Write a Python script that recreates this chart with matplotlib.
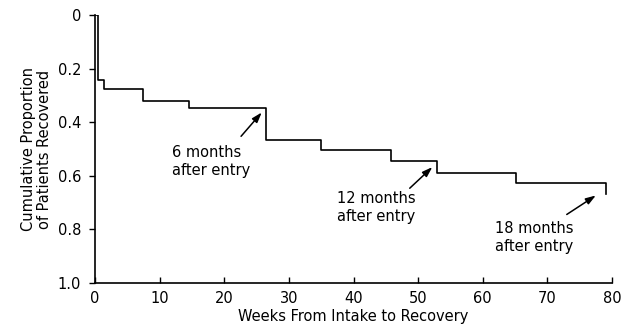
import matplotlib
matplotlib.use("Agg")
import matplotlib.pyplot as plt

# Kaplan-Meier style recovery curve
event_weeks = [0.4, 1.4, 7.4, 14.6, 26.5, 34.9, 45.8, 52.9, 65.1, 79.1]
proportion_recovered = [0.24, 0.277, 0.32, 0.346, 0.464, 0.505, 0.546, 0.588, 0.627, 0.667]

x_ticks = [0, 10, 20, 30, 40, 50, 60, 70, 80]
y_ticks = [0, 0.2, 0.4, 0.6, 0.8, 1.0]
y_tick_labels = ["0", "0.2", "0.4", "0.6", "0.8", "1.0"]

# annotations: label, text left/centre, arrow tail, arrow head (data coords)
notes = ["6 months\nafter entry", "12 months\nafter entry", "18 months\nafter entry"]
note_xy = [(11.9, 0.546), (37.4, 0.718), (61.9, 0.83)]
arrow_tail = [(22.6, 0.452), (48.7, 0.646), (73.0, 0.744)]
arrow_head = [(25.8, 0.363), (52.2, 0.567), (77.5, 0.673)]

plt.rcParams['font.family'] = ['Liberation Sans Narrow', 'DejaVu Sans']
fs = 10.5

fig = plt.figure(figsize=(6.34, 3.32), dpi=100)
ax = fig.add_axes([95 / 634, 1 - 283 / 332, (612 - 95) / 634, (283 - 15.3) / 332])

ax.plot([0] + event_weeks, [0] + proportion_recovered, color='black', lw=1.2,
        drawstyle='steps-post')

for txt, xy, tail, head in zip(notes, note_xy, arrow_tail, arrow_head):
    ax.text(xy[0], xy[1], txt, ha='left', va='center', fontsize=fs,
            linespacing=1.25)
    ax.annotate('', xy=head, xytext=tail,
                arrowprops=dict(arrowstyle='-|>,head_length=0.6,head_width=0.2',
                                color='black', lw=1.1,
                                mutation_scale=10, shrinkA=0, shrinkB=0))

ax.set_xlim(0, 80)
ax.set_ylim(1.0, 0)
ax.set_xticks(x_ticks)
ax.set_yticks(y_ticks)
ax.set_yticklabels(y_tick_labels)
ax.tick_params(axis='x', direction='in', length=4, width=1, labelsize=fs, pad=6)
ax.tick_params(axis='y', direction='out', length=4, width=1, labelsize=fs, pad=6)

for side in ['top', 'right']:
    ax.spines[side].set_visible(False)
for side in ['left', 'bottom']:
    ax.spines[side].set_linewidth(1.2)

ax.set_xlabel('Weeks From Intake to Recovery', fontsize=fs, labelpad=2)
ax.set_ylabel('Cumulative Proportion\nof Patients Recovered', fontsize=fs,
              labelpad=4, linespacing=1.1)

fig.savefig('out.png', dpi=100)
